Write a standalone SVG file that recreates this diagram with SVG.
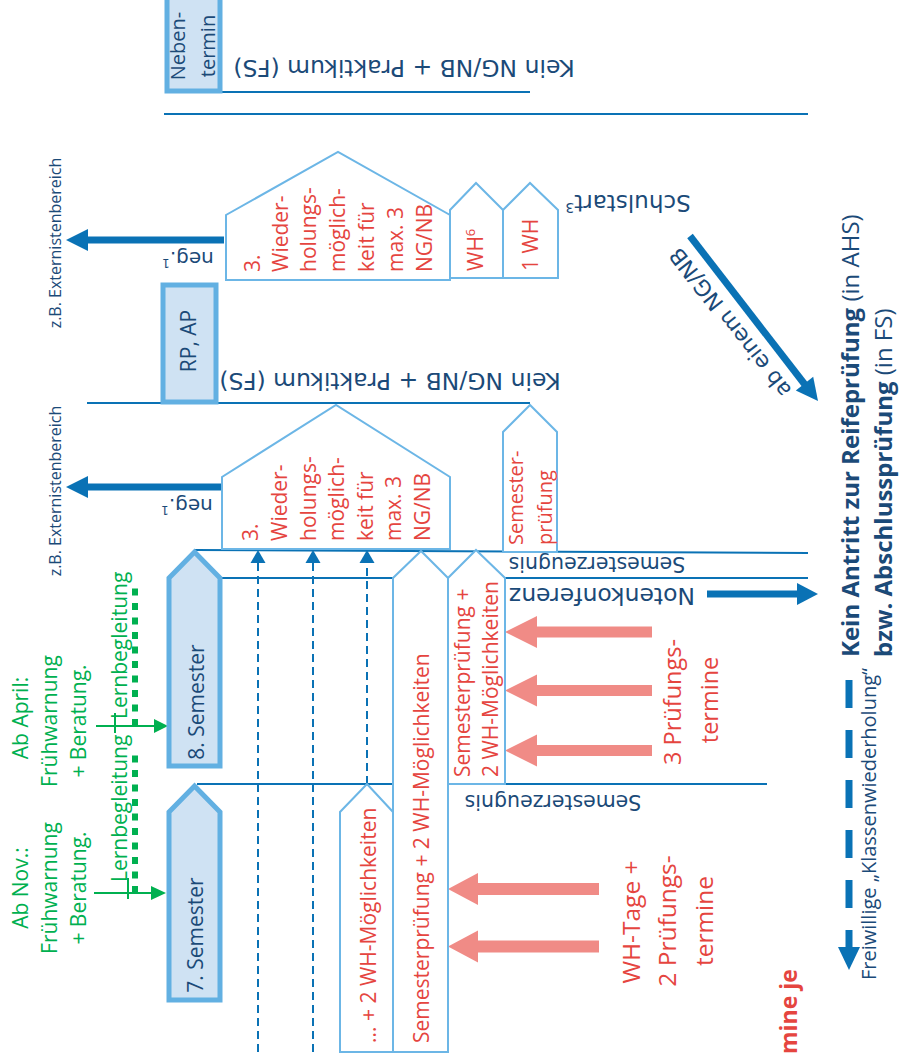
<svg xmlns="http://www.w3.org/2000/svg" width="899" height="1056" viewBox="0 0 899 1056">
<style>
.ln{stroke:#0a72b5;stroke-width:2;fill:none}
.thk{stroke:#0a72b5;stroke-width:7;fill:none}
.hs{fill:#fff;stroke:#6cb6e6;stroke-width:2}
.nd{fill:#cfe2f3;stroke:#62b0e2;stroke-width:5}
.os{font-family:'Open Sans','Liberation Sans',sans-serif}
.dv{font-family:'DejaVu Sans',Verdana,sans-serif}
.red{fill:#e5453f}
.nv{fill:#1b4a78}
.gr{fill:#00b050}
.pk{fill:#f08b86}
.bl{fill:#0a72b5}
.dash{stroke:#0a72b5;stroke-width:2;stroke-dasharray:8 5;fill:none}
.gdot{stroke:#00b050;stroke-width:6;stroke-dasharray:7 7.5;fill:none}
.gln{stroke:#00b050;stroke-width:2;fill:none}
.f21{font-size:21px}
</style>
<rect width="899" height="1056" fill="#fff"/>

<g id="connectors">
  <line class="ln" x1="170" y1="92" x2="530" y2="92"/>
  <line class="ln" x1="164" y1="114" x2="808" y2="114"/>
  <line class="ln" x1="87" y1="403" x2="530" y2="403"/>
  <line class="ln" x1="195" y1="550" x2="808" y2="553"/>
  <line class="ln" x1="222" y1="578" x2="808" y2="578"/>
  <line class="ln" x1="197" y1="784" x2="767" y2="784"/>
  <!-- neg arrows -->
  <line class="thk" x1="224" y1="240" x2="85" y2="240"/>
  <polygon class="bl" points="88,229 66,240 88,251"/>
  <line class="thk" x1="222" y1="487" x2="85" y2="487"/>
  <polygon class="bl" points="88,476 66,487 88,498"/>
  <!-- diagonal -->
  <line class="thk" x1="690" y1="236" x2="806" y2="386"/>
  <polygon class="bl" points="818,401 813.2,376.8 795.8,390.4"/>
  <!-- Notenkonferenz -->
  <line class="thk" x1="707" y1="594" x2="799" y2="594"/>
  <polygon class="bl" points="797,583 818,594 797,605"/>
  <!-- right dashed -->
  <line x1="849" y1="680" x2="849" y2="950" stroke="#0a72b5" stroke-width="7" stroke-dasharray="28 22"/>
  <polygon class="bl" points="838,947 849,970 860,947"/>
  <!-- middle dashed -->
  <line class="dash" x1="258" y1="1052" x2="258" y2="562"/>
  <polygon class="bl" points="250.5,563 258,550 265.5,563"/>
  <line class="dash" x1="313" y1="1052" x2="313" y2="562"/>
  <polygon class="bl" points="305.5,563 313,550 320.5,563"/>
  <line class="dash" x1="367" y1="784" x2="367" y2="562"/>
  <polygon class="bl" points="359.5,563 367,550 374.5,563"/>
  <!-- pink arrows -->
  <polygon class="pk" points="505,632 537,616 537,626.5 652,626.5 652,637.5 537,637.5 537,648"/>
  <polygon class="pk" points="505,690.5 537,674.5 537,685 652,685 652,696 537,696 537,706.5"/>
  <polygon class="pk" points="505,750.5 537,734.5 537,745 652,745 652,756 537,756 537,766.5"/>
  <polygon class="pk" points="448,889 478,873 478,883 599,883 599,895 478,895 478,905"/>
  <polygon class="pk" points="448,946.5 478,930.5 478,940.5 599,940.5 599,952.5 478,952.5 478,962.5"/>
  <!-- green -->
  <line class="gdot" x1="135" y1="893" x2="135" y2="752"/>
  <line class="gdot" x1="135" y1="726" x2="135" y2="588"/>
  <line class="gln" x1="94" y1="893" x2="153" y2="893"/>
  <polygon class="gr" points="151,886 166,893 151,900"/>
  <line class="gln" x1="96" y1="726" x2="156" y2="726"/>
  <polygon class="gr" points="154,719 168,726 154,733"/>
  <line class="gln" x1="128" y1="878" x2="128" y2="899"/>
  <line class="gln" x1="115" y1="713" x2="115" y2="733"/>
</g>

<g id="node-nebentermin">
  <rect class="nd" x="167" y="-4" width="53" height="95"/>
  <text class="os nv" font-size="20" text-anchor="middle" transform="translate(185,46) rotate(-90)">Neben-</text>
  <text class="os nv" font-size="20" text-anchor="middle" transform="translate(215,46) rotate(-90)">termin</text>
</g>

<g id="node-rpap">
  <rect class="nd" x="163" y="285" width="53" height="117"/>
  <text class="os nv f21" text-anchor="middle" transform="translate(196,341) rotate(-90)">RP, AP</text>
</g>

<g id="node-wdh-top">
  <polygon class="hs" points="226,280 226,215 338,152 450,215 450,280"/>
  <g class="os red f21">
    <text transform="translate(260,272) rotate(-90)">3.</text>
    <text transform="translate(288,272) rotate(-90)">Wieder-</text>
    <text transform="translate(316,272) rotate(-90)">holungs-</text>
    <text transform="translate(345,272) rotate(-90)">möglich-</text>
    <text transform="translate(374,272) rotate(-90)">keit für</text>
    <text transform="translate(403,272) rotate(-90)">max. 3</text>
    <text transform="translate(432,272) rotate(-90)">NG/NB</text>
  </g>
</g>

<g id="node-wh6">
  <polygon class="hs" points="450,278 450,210 476,183 503,210 503,278"/>
  <text class="os red f21" transform="translate(483,271) rotate(-90)">WH<tspan dy="-8" font-size="13">6</tspan></text>
</g>

<g id="node-1wh">
  <polygon class="hs" points="503,278 503,210 530,183 558,210 558,278"/>
  <text class="os red f21" transform="translate(538,271) rotate(-90)">1 WH</text>
</g>

<g id="node-wdh-mid">
  <polygon class="hs" points="222,549 222,477 336,405 450,477 450,549"/>
  <g class="os red f21">
    <text transform="translate(258,541) rotate(-90)">3.</text>
    <text transform="translate(287,541) rotate(-90)">Wieder-</text>
    <text transform="translate(316,541) rotate(-90)">holungs-</text>
    <text transform="translate(344,541) rotate(-90)">möglich-</text>
    <text transform="translate(373,541) rotate(-90)">keit für</text>
    <text transform="translate(401,541) rotate(-90)">max. 3</text>
    <text transform="translate(430,541) rotate(-90)">NG/NB</text>
  </g>
</g>

<g id="node-semesterpruefung">
  <polygon class="hs" points="503,552 503,432 530,405 557,432 557,552"/>
  <text class="os red" font-size="20" transform="translate(523,545) rotate(-90)">Semester-</text>
  <text class="os red" font-size="20" transform="translate(552,545) rotate(-90)">prüfung</text>
</g>

<g id="node-sem8">
  <polygon class="nd" points="194.5,552 220,578 220,766 169,766 169,578"/>
  <text class="os nv f21" text-anchor="middle" transform="translate(204,702) rotate(-90)">8. Semester</text>
</g>

<g id="node-sem7">
  <polygon class="nd" points="194.5,786 220,812 220,1000 169,1000 169,812"/>
  <text class="os nv f21" text-anchor="middle" transform="translate(203,935) rotate(-90)">7. Semester</text>
</g>

<g id="node-sp-long">
  <polygon class="hs" points="393,1052 393,578 421,551 448,578 448,1052"/>
  <text class="os red f21" transform="translate(429,1043) rotate(-90)">Semesterprüfung + 2 WH-Möglichkeiten</text>
</g>

<g id="node-sp-short">
  <polygon class="hs" points="448,784 448,578 476,550 505,578 505,784"/>
  <text class="os red f21" transform="translate(470,777) rotate(-90)">Semesterprüfung +</text>
  <text class="os red f21" transform="translate(498,777) rotate(-90)">2 WH-Möglichkeiten</text>
</g>

<g id="node-wh2">
  <polygon class="hs" points="340,1052 340,812 367,784 393,812 393,1052"/>
  <text class="os red f21" transform="translate(376,1043) rotate(-90)">... + 2 WH-Möglichkeiten</text>
</g>

<g id="labels">
  <text class="dv nv" font-size="23.5" text-anchor="middle" transform="translate(404,60) rotate(180)">Kein NG/NB + Praktikum (FS)</text>
  <text class="dv nv" font-size="23.5" text-anchor="middle" transform="translate(390,373) rotate(180)">Kein NG/NB + Praktikum (FS)</text>
  <text class="dv nv" font-size="23" text-anchor="middle" transform="translate(628,195) rotate(180)">Schulstart<tspan dy="-8" font-size="14">3</tspan></text>
  <text class="dv nv" font-size="20" text-anchor="middle" transform="translate(188,252) rotate(180)">neg.<tspan dy="-7" font-size="12">1</tspan></text>
  <text class="dv nv" font-size="20" text-anchor="middle" transform="translate(187,499) rotate(180)">neg.<tspan dy="-7" font-size="12">1</tspan></text>
  <text class="dv nv" font-size="20.5" text-anchor="middle" transform="translate(597,557) rotate(180)">Semesterzeugnis</text>
  <text class="dv nv" font-size="20.5" text-anchor="middle" transform="translate(553,795) rotate(180)">Semesterzeugnis</text>
  <text class="dv nv" font-size="23.5" text-anchor="middle" transform="translate(602,588) rotate(180)">Notenkonferenz</text>
  <text class="dv nv" font-size="22" text-anchor="middle" transform="translate(736,318) rotate(232)">ab einem NG/NB</text>
  <text class="os nv" font-size="16" text-anchor="middle" transform="translate(61,243) rotate(-90)">z.B. Externistenbereich</text>
  <text class="os nv" font-size="16" text-anchor="middle" transform="translate(61,491) rotate(-90)">z.B. Externistenbereich</text>
  <g class="os red" font-size="23.5" text-anchor="middle">
    <text transform="translate(681,702) rotate(-90)">3 Prüfungs-</text>
    <text transform="translate(718,700) rotate(-90)">termine</text>
  </g>
  <g class="os red" font-size="24.5" text-anchor="middle">
    <text transform="translate(640,922) rotate(-90)">WH-Tage +</text>
    <text transform="translate(676,921) rotate(-90)">2 Prüfungs-</text>
    <text transform="translate(713,921) rotate(-90)">termine</text>
  </g>
  <text class="os red" font-size="23" font-weight="bold" transform="translate(797,1054) rotate(-90)">mine je</text>
  <text class="os nv" font-size="24" transform="translate(859,657) rotate(-90)"><tspan font-weight="bold">Kein Antritt zur Reifeprüfung</tspan> (in AHS)</text>
  <text class="os nv" font-size="24" transform="translate(892,657) rotate(-90)"><tspan font-weight="bold">bzw. Abschlussprüfung</tspan> (in FS)</text>
  <text class="os nv" font-size="20" transform="translate(876,980) rotate(-90)">Freiwillige „Klassenwiederholung“</text>
  <g class="os gr f21" text-anchor="middle">
    <text transform="translate(28,888) rotate(-90)">Ab Nov.:</text>
    <text transform="translate(57,888) rotate(-90)">Frühwarnung</text>
    <text transform="translate(86,888) rotate(-90)">+ Beratung.</text>
    <text transform="translate(28,718) rotate(-90)">Ab April:</text>
    <text transform="translate(57,721) rotate(-90)">Frühwarnung</text>
    <text transform="translate(86,721) rotate(-90)">+ Beratung.</text>
  </g>
  <text class="os gr f21" transform="translate(127,882) rotate(-90)">Lernbegleitung</text>
  <text class="os gr f21" transform="translate(127,719) rotate(-90)">Lernbegleitung</text>
</g>
</svg>
